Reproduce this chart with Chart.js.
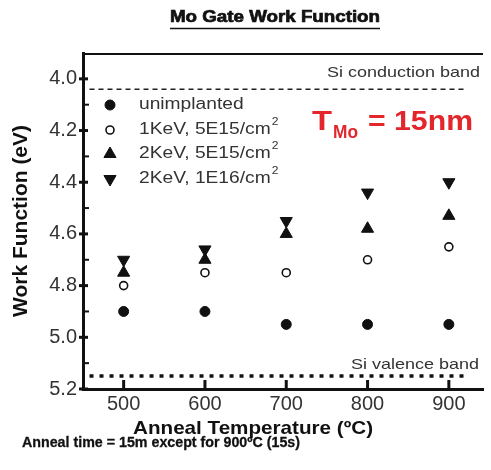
<!DOCTYPE html>
<html lang="en">
<head>
<meta charset="UTF-8" />
<title>Mo Gate Work Function</title>
<script src="https://cdn.jsdelivr.net/npm/chart.js"></script>
<style>
  html, body { margin: 0; padding: 0; background: #fff; }
  #wrap { position: relative; width: 491px; height: 470px; }
</style>
</head>
<body>
<div id="wrap"><canvas id="wfChart" width="491" height="470"></canvas></div>
<script>
  // anneal temperatures (°C)
  const temps = [500, 600, 700, 800, 900];
  // work function (eV) for each implant condition
  const unimplanted = [4.90, 4.90, 4.95, 4.95, 4.95];
  const kev1_5e15 = [4.80, 4.75, 4.75, 4.70, 4.65];
  const kev2_5e15 = [4.75, 4.70, 4.60, 4.58, 4.53];
  const kev2_1e16 = [4.70, 4.66, 4.55, 4.44, 4.40];
  const seriesNames = ['unimplanted', '1KeV, 5E15/cm²', '2KeV, 5E15/cm²', '2KeV, 1E16/cm²'];

  // Si band edges (dotted reference lines)
  const bandX = [458, 920];
  const siConduction = 4.04;
  const siValence = 5.15;

  // axis ticks
  const xTicks = [500, 600, 700, 800, 900];
  const yMajor = [4.0, 4.2, 4.4, 4.6, 4.8, 5.0, 5.2];
  const yMinor = [4.1, 4.3, 4.5, 4.7, 4.9, 5.1];

  const FONT = "'Liberation Sans', Arial, Helvetica, sans-serif";
  const INK = '#111';
  const GREY = '#333';

  const pts = ys => temps.map((t, i) => ({ x: t, y: ys[i] }));
  const band = v => bandX.map(x => ({ x: x, y: v }));

  // draw text, optionally stretched horizontally (the source figure is a bit wide)
  function txt(ctx, s, x, y, font, color, o = {}) {
    ctx.save();
    ctx.font = font;
    ctx.fillStyle = color;
    ctx.textBaseline = o.baseline || 'middle';
    ctx.textAlign = 'left';
    const w = ctx.measureText(s).width;
    const sx = o.width ? o.width / w : (o.sx || 1);
    let x0 = x;
    if (o.align === 'right') x0 = x - w * sx;
    if (o.align === 'center') x0 = x - w * sx / 2;
    ctx.translate(x0, y);
    ctx.scale(sx, 1);
    ctx.fillText(s, 0, 0);
    if (o.bolder) {
      ctx.strokeStyle = color;
      ctx.lineWidth = o.bolder;
      ctx.strokeText(s, 0, 0);
    }
    ctx.restore();
    return w * sx;
  }

  function marker(ctx, ds, x, y) {
    const r = ds.pointRadius;
    ctx.save();
    ctx.fillStyle = ds.backgroundColor;
    ctx.strokeStyle = ds.borderColor;
    ctx.lineWidth = ds.borderWidth;
    ctx.beginPath();
    if (ds.pointStyle === 'triangle') {
      const s = ds.pointRotation ? -1 : 1;
      ctx.moveTo(x, y - s * r);
      ctx.lineTo(x + r * 0.866, y + s * r / 2);
      ctx.lineTo(x - r * 0.866, y + s * r / 2);
      ctx.closePath();
    } else {
      ctx.arc(x, y, r, 0, Math.PI * 2);
    }
    ctx.fill();
    ctx.stroke();
    ctx.restore();
  }

  const decor = {
    id: 'decor',
    afterDraw(chart) {
      const ctx = chart.ctx;
      const a = chart.chartArea;
      const xs = chart.scales.x;
      const ys = chart.scales.y;

      // top frame
      ctx.save();
      ctx.strokeStyle = INK;
      ctx.lineWidth = 2;
      ctx.beginPath();
      ctx.moveTo(a.left, a.top + 1);
      ctx.lineTo(a.right, a.top + 1);
      ctx.stroke();

      // tick marks
      ctx.lineWidth = 3;
      yMajor.forEach(v => {
        const py = ys.getPixelForValue(v);
        ctx.beginPath();
        ctx.moveTo(a.left - 4, py);
        ctx.lineTo(a.left + 5, py);
        ctx.stroke();
      });
      ctx.lineWidth = 2;
      yMinor.forEach(v => {
        const py = ys.getPixelForValue(v);
        ctx.beginPath();
        ctx.moveTo(a.left, py);
        ctx.lineTo(a.left + 6, py);
        ctx.stroke();
      });
      ctx.lineWidth = 3;
      xTicks.forEach(v => {
        const px = xs.getPixelForValue(v);
        ctx.beginPath();
        ctx.moveTo(px, a.bottom);
        ctx.lineTo(px, a.bottom - 9);
        ctx.stroke();
      });
      ctx.restore();

      // x axis title (centred under the original, wider plot)
      txt(ctx, 'Anneal Temperature (ºC)', 253, 429, 'bold 19px ' + FONT, INK, { align: 'center', width: 240 });

      // legend
      const rows = [105, 130, 154, 179];
      chart.data.datasets.filter(d => !d.band).forEach((d, i) => {
        marker(ctx, d, 110, rows[i]);
        const sup = d.label.endsWith('²');
        const main = sup ? d.label.slice(0, -1) : d.label;
        const w = txt(ctx, main, 139, rows[i], '16px ' + FONT, GREY, { sx: 1.2 });
        if (sup) txt(ctx, '2', 140 + w, rows[i] - 8, '11px ' + FONT, GREY, { sx: 1.1 });
      });

      // band labels
      txt(ctx, 'Si conduction band', 480, 73, '15px ' + FONT, GREY, { align: 'right', sx: 1.2 });
      txt(ctx, 'Si valence band', 479, 365, '15px ' + FONT, GREY, { align: 'right', sx: 1.2 });

      // T_Mo = 15nm
      const red = '#e3262b';
      txt(ctx, 'T', 312, 130, 'bold 28px ' + FONT, red, { baseline: 'alphabetic', width: 20 });
      txt(ctx, 'Mo', 333, 138, 'bold 18px ' + FONT, red, { baseline: 'alphabetic', width: 25 });
      txt(ctx, '= 15nm', 368, 130, 'bold 28px ' + FONT, red, { baseline: 'alphabetic', width: 105 });

      // title and footnote
      txt(ctx, 'Mo Gate Work Function', 275, 18, 'bold 16px ' + FONT, INK, { align: 'center', width: 210, bolder: 0.7 });
      ctx.save();
      ctx.strokeStyle = INK;
      ctx.lineWidth = 1.5;
      ctx.beginPath();
      ctx.moveTo(170, 28.5);
      ctx.lineTo(380, 28.5);
      ctx.stroke();
      ctx.restore();
      txt(ctx, 'Anneal time = 15m except for 900ºC (15s)', 22, 443, 'bold 15px ' + FONT, INK, { width: 278, bolder: 0.3 });
    }
  };

  const ctx = document.getElementById('wfChart').getContext('2d');
  const wfChart = new Chart(ctx, {
    type: 'scatter',
    data: {
      datasets: [
        {
          label: seriesNames[0],
          data: pts(unimplanted),
          pointStyle: 'circle',
          pointRadius: 5,
          backgroundColor: INK,
          borderColor: INK,
          borderWidth: 1,
        },
        {
          label: seriesNames[1],
          data: pts(kev1_5e15),
          pointStyle: 'circle',
          pointRadius: 4,
          backgroundColor: '#fff',
          borderColor: INK,
          borderWidth: 1.6,
        },
        {
          label: seriesNames[2],
          data: pts(kev2_5e15),
          pointStyle: 'triangle',
          pointRadius: 7,
          backgroundColor: INK,
          borderColor: INK,
          borderWidth: 1,
        },
        {
          label: seriesNames[3],
          data: pts(kev2_1e16),
          pointStyle: 'triangle',
          pointRotation: 180,
          pointRadius: 7,
          backgroundColor: INK,
          borderColor: INK,
          borderWidth: 1,
        },
        {
          label: 'Si conduction band',
          band: true,
          data: band(siConduction),
          showLine: true,
          pointRadius: 0,
          borderColor: '#222',
          borderWidth: 1.5,
          borderDash: [5, 4],
        },
        {
          label: 'Si valence band',
          band: true,
          data: band(siValence),
          showLine: true,
          pointRadius: 0,
          borderColor: INK,
          borderWidth: 3.5,
          borderDash: [4, 6],
        },
      ],
    },
    options: {
      responsive: false,
      animation: false,
      events: [],
      layout: { padding: { top: 53, bottom: 30, left: 0, right: 0 } },
      plugins: {
        legend: { display: false },
        title: { display: false },
        tooltip: { enabled: false },
      },
      scales: {
        x: {
          type: 'linear',
          min: 450,
          max: 942,
          afterBuildTicks: s => { s.ticks = xTicks.map(v => ({ value: v })); },
          afterFit: s => { s.height = 51; },
          grid: { drawOnChartArea: false, drawTicks: false },
          border: { display: true, color: INK, width: 3 },
          ticks: { color: GREY, font: { family: FONT, size: 20 }, padding: 3, maxRotation: 0 },
          title: { display: false, text: 'Anneal Temperature (ºC)' },
        },
        y: {
          type: 'linear',
          reverse: true,
          min: 3.9,
          max: 5.2,
          afterBuildTicks: s => { s.ticks = yMajor.map(v => ({ value: v })); },
          afterFit: s => { s.width = 83; },
          grid: { drawOnChartArea: false, drawTicks: false },
          border: { display: true, color: INK, width: 3 },
          ticks: {
            color: GREY,
            font: { family: FONT, size: 20 },
            padding: 6,
            callback: v => v.toFixed(1),
          },
          title: {
            display: true,
            text: 'Work Function (eV)',
            color: INK,
            font: { family: FONT, size: 21, weight: 'bold' },
            padding: { top: 9, bottom: 0 },
          },
        },
      },
    },
    plugins: [decor],
  });
</script>
</body>
</html>
